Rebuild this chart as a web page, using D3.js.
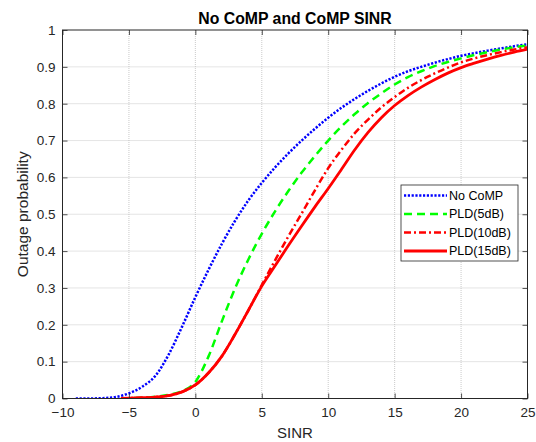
<!DOCTYPE html>
<html>
<head>
<meta charset="utf-8">
<script src="https://cdn.jsdelivr.net/npm/d3@7"></script>
<style>
  body { margin: 0; background: #fff; }
  text { font-family: "Liberation Sans", Arial, Helvetica, sans-serif; }
</style>
</head>
<body>
<svg id="chart"></svg>
<script>
// x positions (SINR, dB) and read-off outage probabilities
const xNoComp = [-9, -8, -7, -6, -5, -4, -3, -2, -1, 0, 1, 2, 3, 4, 5, 6, 7, 8, 9, 10, 11, 12, 13, 14, 15, 16, 17, 18, 19, 20, 21, 22, 23, 24, 25];
const noComp = [0, 0, 0.001, 0.004, 0.014, 0.032, 0.062, 0.12, 0.195, 0.275, 0.35, 0.42, 0.483, 0.538, 0.585, 0.627, 0.665, 0.7, 0.732, 0.762, 0.789, 0.813, 0.835, 0.855, 0.873, 0.888, 0.9, 0.911, 0.921, 0.93, 0.937, 0.944, 0.95, 0.956, 0.961];

const xComp = [-5.6, -5, -4, -3, -2, -1, 0, 1, 2, 3, 4, 5, 6, 7, 8, 9, 10, 11, 12, 13, 14, 15, 16, 17, 18, 19, 20, 21, 22, 23, 24, 25];
const pld5 = [0, 0.001, 0.002, 0.005, 0.01, 0.02, 0.045, 0.115, 0.21, 0.3, 0.378, 0.447, 0.508, 0.563, 0.613, 0.658, 0.7, 0.738, 0.772, 0.802, 0.828, 0.852, 0.872, 0.888, 0.902, 0.913, 0.923, 0.932, 0.94, 0.947, 0.953, 0.958];
const pld10 = [0, 0.001, 0.002, 0.004, 0.008, 0.018, 0.037, 0.07, 0.115, 0.175, 0.24, 0.308, 0.375, 0.44, 0.502, 0.565, 0.625, 0.675, 0.72, 0.757, 0.79, 0.818, 0.843, 0.864, 0.882, 0.898, 0.912, 0.923, 0.932, 0.94, 0.947, 0.953];
const pld15 = [0, 0.001, 0.002, 0.004, 0.008, 0.018, 0.037, 0.07, 0.115, 0.175, 0.24, 0.305, 0.36, 0.415, 0.468, 0.52, 0.57, 0.622, 0.675, 0.722, 0.762, 0.795, 0.822, 0.845, 0.865, 0.883, 0.898, 0.91, 0.921, 0.931, 0.94, 0.948];

const xTicks = [-10, -5, 0, 5, 10, 15, 20, 25];
const yTicks = [0, 0.1, 0.2, 0.3, 0.4, 0.5, 0.6, 0.7, 0.8, 0.9, 1];

const series = [
  { name: "No CoMP", xs: xNoComp, ys: noComp, color: "#0000ff", width: 2.5, dash: "2.2,1.6" },
  { name: "PLD(5dB)", xs: xComp, ys: pld5, color: "#00ff00", width: 2.5, dash: "8,5" },
  { name: "PLD(10dB)", xs: xComp, ys: pld10, color: "#ff0000", width: 2.5, dash: "7,3,2,3" },
  { name: "PLD(15dB)", xs: xComp, ys: pld15, color: "#ff0000", width: 2.8, dash: null }
];

const W = 536, H = 442;
const margin = { top: 30, right: 8.5, bottom: 43.5, left: 62.5 };
const width = W - margin.left - margin.right;
const height = H - margin.top - margin.bottom;
const axisColor = "#262626";

const svg = d3.select("#chart")
  .attr("width", W)
  .attr("height", H);

svg.append("rect").attr("width", W).attr("height", H).attr("fill", "#fff");

const g = svg.append("g")
  .attr("transform", `translate(${margin.left},${margin.top})`);

const x = d3.scaleLinear().domain([-10, 25]).range([0, width]);
const y = d3.scaleLinear().domain([0, 1]).range([height, 0]);

// grid
g.append("g")
  .selectAll("line")
  .data(xTicks.slice(1, -1))
  .join("line")
  .attr("x1", d => x(d)).attr("x2", d => x(d))
  .attr("y1", 0).attr("y2", height)
  .attr("stroke", "#bdbdbd")
  .attr("stroke-width", 0.8)
  .attr("stroke-dasharray", "1,1");

g.append("g")
  .selectAll("line")
  .data(yTicks.slice(1, -1))
  .join("line")
  .attr("x1", 0).attr("x2", width)
  .attr("y1", d => y(d)).attr("y2", d => y(d))
  .attr("stroke", "#bdbdbd")
  .attr("stroke-width", 0.8)
  .attr("stroke-dasharray", "1,1");

// curves
g.append("clipPath").attr("id", "clip")
  .append("rect").attr("width", width).attr("height", height);

const line = d3.line()
  .x(d => x(d[0]))
  .y(d => y(d[1]))
  .curve(d3.curveMonotoneX);

g.append("g").attr("clip-path", "url(#clip)")
  .selectAll("path")
  .data(series)
  .join("path")
  .attr("d", s => line(s.xs.map((v, i) => [v, s.ys[i]])))
  .attr("fill", "none")
  .attr("stroke", s => s.color)
  .attr("stroke-width", s => s.width)
  .attr("stroke-dasharray", s => s.dash);

// axes, ticks pointing inward on all four sides
const styleAxis = sel => {
  sel.select(".domain").remove();
  sel.selectAll("line").attr("stroke", axisColor).attr("stroke-width", 0.8);
  sel.selectAll("text").attr("fill", axisColor).style("font-size", "13.5px");
};

g.append("g")
  .attr("transform", `translate(0,${height})`)
  .call(d3.axisBottom(x).tickValues(xTicks).tickFormat(d3.format("d")).tickSizeInner(-5).tickSizeOuter(0).tickPadding(9))
  .call(styleAxis);

g.append("g")
  .call(d3.axisTop(x).tickValues(xTicks).tickFormat("").tickSizeInner(-5).tickSizeOuter(0))
  .call(styleAxis);

g.append("g")
  .call(d3.axisLeft(y).tickValues(yTicks).tickFormat(d3.format("~g")).tickSizeInner(-5).tickSizeOuter(0).tickPadding(7))
  .call(styleAxis);

g.append("g")
  .attr("transform", `translate(${width},0)`)
  .call(d3.axisRight(y).tickValues(yTicks).tickFormat("").tickSizeInner(-5).tickSizeOuter(0))
  .call(styleAxis);

g.append("rect")
  .attr("width", width).attr("height", height)
  .attr("fill", "none")
  .attr("stroke", axisColor)
  .attr("stroke-width", 1);

// labels
svg.append("text")
  .attr("x", margin.left + width / 2)
  .attr("y", 23.5)
  .attr("text-anchor", "middle")
  .style("font-size", "15.8px")
  .style("font-weight", "bold")
  .attr("fill", "#000")
  .text("No CoMP and CoMP SINR");

svg.append("text")
  .attr("x", margin.left + width / 2)
  .attr("y", 438)
  .attr("text-anchor", "middle")
  .style("font-size", "15px")
  .attr("fill", axisColor)
  .text("SINR");

svg.append("text")
  .attr("transform", `translate(28,${margin.top + height / 2}) rotate(-90)`)
  .attr("text-anchor", "middle")
  .style("font-size", "15.5px")
  .attr("fill", axisColor)
  .text("Outage probability");

// legend
const legend = svg.append("g")
  .attr("transform", "translate(401,185)");

legend.append("rect")
  .attr("width", 117).attr("height", 76)
  .attr("fill", "#fff")
  .attr("stroke", axisColor)
  .attr("stroke-width", 0.8);

const item = legend.selectAll("g.item")
  .data(series)
  .join("g")
  .attr("class", "item")
  .attr("transform", (d, i) => `translate(0,${10.5 + i * 18.5})`);

item.append("line")
  .attr("x1", 3).attr("x2", 46)
  .attr("stroke", d => d.color)
  .attr("stroke-width", d => d.width)
  .attr("stroke-dasharray", d => d.dash);

item.append("text")
  .attr("x", 48)
  .attr("dy", "0.35em")
  .style("font-size", "12.5px")
  .attr("fill", "#000")
  .text(d => d.name);
</script>
</body>
</html>
